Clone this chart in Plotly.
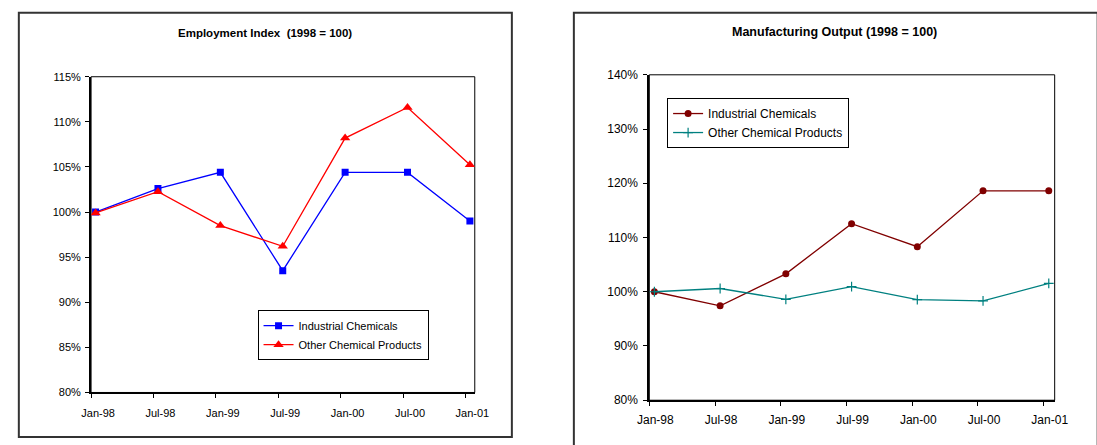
import plotly.graph_objects as go

# Half-year periods shared by both panels
periods = ["Jan-98", "Jul-98", "Jan-99", "Jul-99", "Jan-00", "Jul-00", "Jan-01"]

# Employment index (1998 = 100), percent
emp_industrial = [100.0, 102.6, 104.4, 93.5, 104.4, 104.4, 99.0]
emp_other = [99.9, 102.25, 98.5, 96.2, 108.2, 111.6, 105.25]

# Manufacturing output (1998 = 100), percent
out_industrial = [100.0, 97.4, 103.3, 112.55, 108.3, 118.6, 118.6]
out_other = [100.0, 100.6, 98.6, 100.95, 98.55, 98.3, 101.55]

left_ticks = [80, 85, 90, 95, 100, 105, 110, 115]
right_ticks = [80, 90, 100, 110, 120, 130, 140]

FONT = "Arial, 'Liberation Sans', sans-serif"
W, H = 1097, 445


def px_x(v):
    return v / W


def px_y(v):
    return 1 - v / H


xs = list(range(len(periods)))

fig = go.Figure()

fig.add_trace(go.Scatter(
    x=xs, y=emp_industrial, name="Industrial Chemicals", mode="lines+markers",
    line=dict(color="#0000FF", width=1.3),
    marker=dict(symbol="square", size=7, color="#0000FF"),
    xaxis="x", yaxis="y", legend="legend"))
fig.add_trace(go.Scatter(
    x=xs, y=emp_other, name="Other Chemical Products", mode="lines+markers",
    line=dict(color="#FF0000", width=1.3),
    marker=dict(symbol="triangle-up", size=9, color="#FF0000"),
    xaxis="x", yaxis="y", legend="legend"))

fig.add_trace(go.Scatter(
    x=xs, y=out_industrial, name="Industrial Chemicals", mode="lines+markers",
    line=dict(color="#800000", width=1.3),
    marker=dict(symbol="circle", size=7, color="#800000"),
    xaxis="x2", yaxis="y2", legend="legend2"))
fig.add_trace(go.Scatter(
    x=xs, y=out_other, name="Other Chemical Products", mode="lines+markers",
    line=dict(color="#008080", width=1.3),
    marker=dict(symbol="cross-thin", size=7, color="#008080",
                line=dict(color="#008080", width=1.2)),
    xaxis="x2", yaxis="y2", legend="legend2"))

# x tick marks sit slightly left of the data points, labels centred on them
left_off, right_off = 0.072, 0.077

common_x = dict(
    showline=True, linecolor="black", linewidth=2, ticks="outside", ticklen=4,
    tickcolor="black", tickwidth=1, showgrid=False, zeroline=False,
    fixedrange=True)
common_y = dict(
    showline=True, linecolor="black", linewidth=2, ticks="outside", ticklen=4,
    tickcolor="black", tickwidth=1, showgrid=False, zeroline=False,
    fixedrange=True)

fig.update_layout(
    width=W, height=H, margin=dict(l=0, r=0, t=0, b=0),
    paper_bgcolor="white", plot_bgcolor="white",
    font=dict(family=FONT, color="black"),
    showlegend=True,
    xaxis=dict(common_x, domain=[px_x(81), px_x(474)], range=[-left_off, 6 + 0.078],
               tickvals=[i - left_off for i in xs], ticktext=periods,
               ticklabelshift=7, ticklabelstandoff=5,
               tickfont=dict(size=11), anchor="y"),
    yaxis=dict(common_y, domain=[px_y(398), px_y(72)], range=[80, 115],
               tickvals=left_ticks, ticktext=[f"{v}%" for v in left_ticks],
               tickfont=dict(size=11), ticklabelstandoff=2, anchor="x"),
    xaxis2=dict(common_x, domain=[px_x(652.8), px_x(1068)], range=[-right_off, 6 + 0.09],
                tickvals=[i - right_off for i in xs], ticktext=periods,
                ticklabelshift=6, ticklabelstandoff=3,
                tickfont=dict(size=12), anchor="y2"),
    yaxis2=dict(common_y, domain=[px_y(406), px_y(70)], range=[80, 140],
                tickvals=right_ticks, ticktext=[f"{v}%" for v in right_ticks],
                tickfont=dict(size=12), ticklabelstandoff=3, anchor="x2"),
    legend=dict(x=px_x(251.5), y=px_y(313), xanchor="left", yanchor="top",
                bgcolor="white", bordercolor="black", borderwidth=1,
                font=dict(size=11, family=FONT), itemwidth=30,
                traceorder="normal"),
    legend2=dict(x=px_x(671), y=px_y(94), xanchor="left", yanchor="top",
                 bgcolor="white", bordercolor="black", borderwidth=1,
                 font=dict(size=12, family=FONT), itemwidth=30,
                 traceorder="normal"),
)

# thin border on the top/right of each plot area
for xr, yr in (("x domain", "y domain"), ("x2 domain", "y2 domain")):
    fig.add_shape(type="rect", xref=xr, yref=yr, x0=0, x1=1, y0=0, y1=1,
                  line=dict(color="black", width=1), fillcolor="rgba(0,0,0,0)",
                  layer="below")

# chart-area frames
fig.add_shape(type="rect", xref="paper", yref="paper",
              x0=px_x(7), x1=px_x(512), y0=px_y(444), y1=px_y(6),
              line=dict(color="#333333", width=2))
fig.add_shape(type="rect", xref="paper", yref="paper",
              x0=px_x(575.5), x1=px_x(1112), y0=px_y(460), y1=px_y(6),
              line=dict(color="#333333", width=2))

fig.add_annotation(text="<b>Employment Index  (1998 = 100)</b>", xref="paper", yref="paper",
                   x=px_x(259.5), y=px_y(27), xanchor="center", yanchor="middle",
                   showarrow=False, font=dict(size=11.5, family=FONT, color="black"))
fig.add_annotation(text="<b>Manufacturing Output (1998 = 100)</b>", xref="paper", yref="paper",
                   x=px_x(842.5), y=px_y(26), xanchor="center", yanchor="middle",
                   showarrow=False, font=dict(size=12.5, family=FONT, color="black"))

fig.write_html("out.html")
